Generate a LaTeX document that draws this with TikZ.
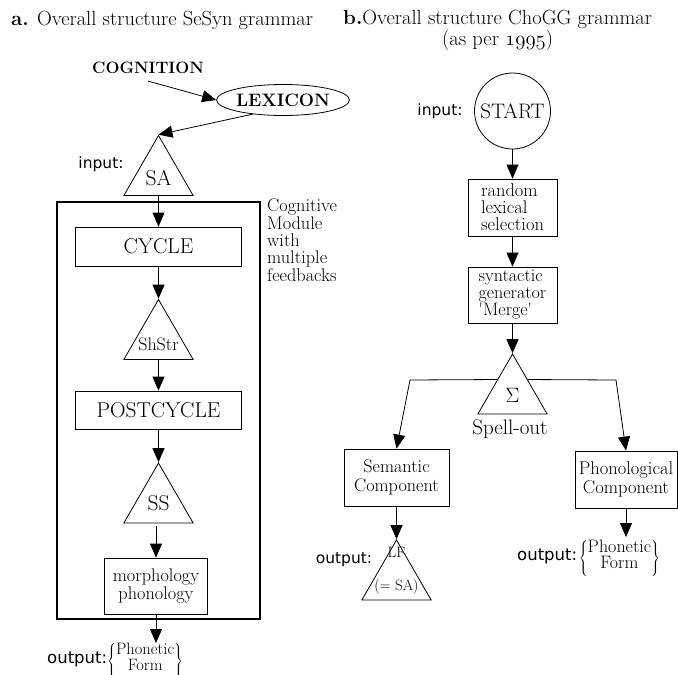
\documentclass[tikz,border=0pt]{standalone}
\usepackage{fontspec}
\newfontfamily\sansf{DejaVu Sans}
\usetikzlibrary{arrows.meta,shapes.geometric,calc}
\newcommand\fs[2]{\fontsize{#1}{#2}\selectfont}
\newcommand\osnum[1]{{\usefont{OML}{cmm}{m}{it}#1}}
\begin{document}
\begin{tikzpicture}[x=1pt,y=-1pt,
  arr/.style={-{Triangle[length=14pt,width=12pt]}, line width=0.8pt},
  boxn/.style={draw, line width=0.8pt, inner sep=0pt, align=center},
  tri/.style={draw, regular polygon, regular polygon sides=3, minimum size=80pt, inner sep=0pt, line width=0.8pt},
  lbl/.style={font=\sansf\fs{15.5}{18}, inner sep=0pt},
  txt/.style={font=\fs{18.3}{18}, inner sep=0pt},
  big/.style={font=\fs{21.5}{24}, inner sep=0pt},
]
\useasboundingbox (0,0) rectangle (678,675);

% titles
\node[anchor=west, inner sep=0pt, font=\fs{20.5}{22}] (ta) at (11,20) {\textbf{a.} Overall structure SeSyn grammar};
\node[anchor=west, inner sep=0pt, font=\fs{20.5}{22}] (tb) at (343,19) {\textbf{b.}Overall structure ChoGG grammar};
\node[inner sep=0pt, font=\fs{20.5}{22}] (tb2) at (tb.center |- 0,40) {(as per \osnum{1995})};

% ---------- part a ----------
\node[font=\bfseries\fs{16.5}{18}, inner sep=0pt] (cog) at (148,68) {COGNITION};
\node[draw, ellipse, minimum width=108pt, minimum height=31pt, inner sep=0pt, line width=0.8pt, font=\bfseries\fs{18}{20}] (lex) at (283,100) {LEXICON};
\draw[arr] ([yshift=-7pt]cog.south) -- (lex.west);

\node[tri, label={[big, yshift=-3pt]center:SA}] (sa) at (158.5,175.5) {};
\node[lbl] (ina) at (101,164) {input:};
\draw[arr] (lex.205) -- (sa.corner 1);

\node[draw, line width=2.6pt, minimum width=203pt, minimum height=417pt, inner sep=0pt] (cogbox) at (158.5,410.5) {};
\node[anchor=north west, align=left, inner sep=0pt, font=\fs{18.3}{17.3}] (cmt) at (267,199) {Cognitive\\Module\\with\\multiple\\feedbacks};

\node[boxn, big, minimum width=166pt, minimum height=39pt] (cycle) at (158.5,246.5) {CYCLE};
\draw[arr] (sa.south) -- (cycle.north);

\node[tri, label={[font=\fs{18}{20}, yshift=-5pt]center:ShStr}] (sh) at (158.5,339.5) {};
\draw[arr] (cycle.south) -- (sh.corner 1);

\node[boxn, big, minimum width=166pt, minimum height=38pt] (post) at (158.5,410) {POSTCYCLE};
\draw[arr] (sh.south) -- (post.north);

\node[tri, label={[big, yshift=0pt]center:SS}] (ss) at (158.5,503) {};
\draw[arr] (post.south) -- (ss.corner 1);

\node[boxn, txt, align=center, minimum width=103pt, minimum height=56pt] (morph) at (156,586) {morphology\\phonology};
\draw[arr] ([yshift=-3pt]ss.south -| morph.north) -- (morph.north);

\coordinate (oa) at (156,643);
\draw[arr] (morph.south) -- (oa);
\node[anchor=west, inner sep=0pt] (outa) at (47,661) {{\sansf\fs{16.5}{18}output:}$\left\{\hbox{\fs{16.5}{16}\begin{tabular}{@{}c@{}}Phonetic\\[-1pt]Form\end{tabular}}\right\}$};

% ---------- part b ----------
\node[draw, circle, minimum size=76pt, inner sep=0pt, line width=0.8pt, font=\fs{21}{24}] (start) at (512.5,111) {START};
\node[lbl] (inb) at (440,111) {input:};

\node[boxn, align=left, minimum width=89pt, minimum height=57pt, font=\fs{18.5}{17}] (rls) at (512.5,207.5) {random\\lexical\\selection};
\draw[arr] (start.south) -- (rls.north);

\node[boxn, align=left, minimum width=89pt, minimum height=56pt, font=\fs{18}{17}] (syn) at (512.5,295) {syntactic\\generator\\\textquotesingle Merge\textquotesingle};
\draw[arr] (rls.south) -- (syn.north);

\node[tri, label={[font=\fs{21}{22}, yshift=-1pt]center:$\Sigma$}] (sig) at (512.5,394) {};
\draw[arr] (syn.south) -- (sig.corner 1);
\node[inner sep=0pt, font=\fs{21}{22}] (spell) at (510,429) {Spell-out};

\node[boxn, minimum width=105pt, minimum height=57pt, font=\fs{18.2}{19}] (sem) at (396.5,477.5) {Semantic\\Component};
\node[boxn, minimum width=102pt, minimum height=57pt, font=\fs{18.5}{19}] (phon) at (626,479.5) {Phonological\\Component};

\coordinate (bl) at (410,380);
\coordinate (br) at (616,380);
\draw[arr] ($(sig.corner 1)!0.43!(sig.corner 2)$) -- (bl) -- (sem.north);
\draw[arr] ($(sig.corner 1)!0.43!(sig.corner 3)$) -- (br) -- (phon.north);

\node[tri, label={[font=\fs{15}{16}, align=center, yshift=9pt]center:LF\\[17pt](= SA)}] (lf) at (396.5,580) {};
\draw[arr] (sem.south) -- (lf.corner 1);
\node[lbl] (outlf) at (344,560) {output:};

\coordinate (ob) at (626,537);
\draw[arr] (phon.south) -- (ob);
\node[anchor=west, inner sep=0pt] (outb) at (517,558) {{\sansf\fs{16.5}{18}output:}\,$\left\{\hbox{\fs{18}{17}\begin{tabular}{@{}c@{}}Phonetic\\[-1pt]Form\end{tabular}}\right\}$};
\end{tikzpicture}
\end{document}
